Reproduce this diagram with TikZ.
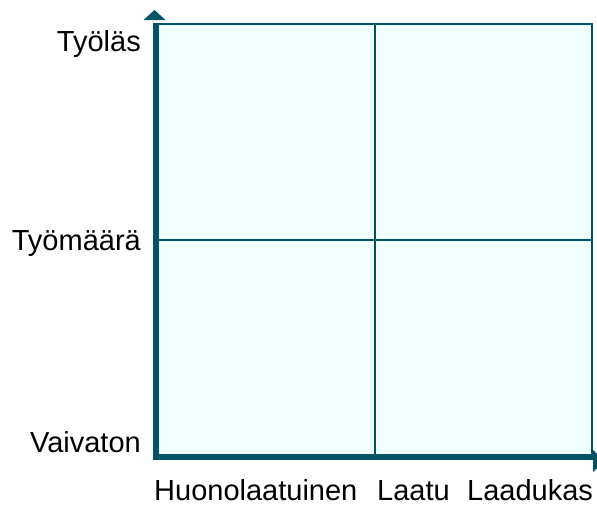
\documentclass[tikz,border=0pt]{standalone}
\usepackage{fontspec}
\setmainfont{Liberation Sans}
\definecolor{axisteal}{RGB}{0,84,102}
\definecolor{panelcyan}{RGB}{240,255,255}
\usetikzlibrary{positioning}

\begin{document}
\begin{tikzpicture}[x=1pt,y=-1pt,
      axis/.style={draw=axisteal,line width=6pt},
      gridline/.style={draw=axisteal,line width=2pt},
      tip/.style={fill=axisteal},
      lbl/.style={font=\fontsize{29}{34}\selectfont,inner sep=0pt}]
    \useasboundingbox (0,0) rectangle (597,506);
    % panel and grid
    \fill[panelcyan] (157,24) rectangle (592,457);
    \draw[gridline] (157,24) -- (592,24) -- (592,457);
    \draw[gridline] (375,24) -- (375,457);
    \draw[gridline] (157,240) -- (592,240);
    % axes
    \coordinate (o) at (156.3,457);
    \coordinate (ytop) at (156.3,23);
    \coordinate (xend) at (593,457);
    \coordinate (xstart) at (153.3,457);
    \draw[axis] (o) -- (ytop);
    \draw[axis] (xstart) -- (xend);
    \fill[tip] (143.5,20) -- (165.5,20) -- (154.5,10) -- cycle;
    \fill[tip] (593,450) -- (593,472) -- (605,461) -- cycle;
    % labels
    \node[lbl,anchor=base east] (tyolas) at (141,51) {Työläs};
    \node[lbl,anchor=base east] (tyomaara) at (141,250) {Työmäärä};
    \node[lbl,anchor=base east] (vaivaton) at (141,452) {Vaivaton};
    \node[lbl,anchor=base west] (huono) at (154,500) {Huonolaatuinen};
    \node[lbl,anchor=base west] (laatu) at (377,500) {Laatu};
    \node[lbl,anchor=base west] (laadukas) at (467,500) {Laadukas};
  \end{tikzpicture}
\end{document}
